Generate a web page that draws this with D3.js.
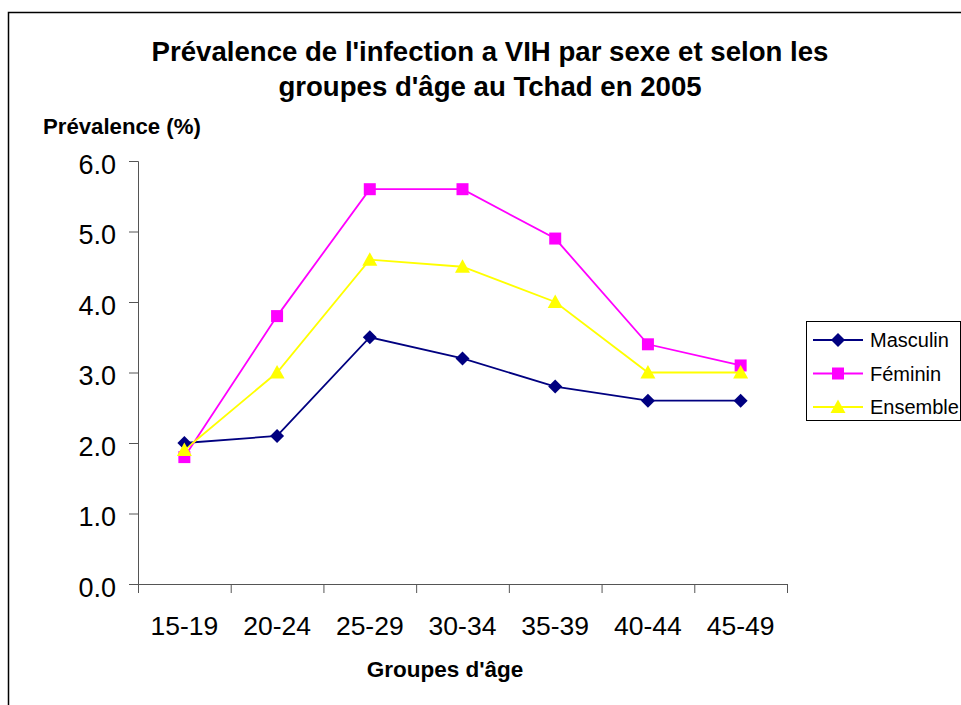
<!DOCTYPE html>
<html><head><meta charset="utf-8">
<script src="https://cdn.jsdelivr.net/npm/d3@7"></script>
<style>body{margin:0;background:#fff}svg{display:block;font-family:Arial,"Liberation Sans",sans-serif}</style>
</head><body>
<script>
const categories = ["15-19","20-24","25-29","30-34","35-39","40-44","45-49"];
const masculin = [2.0, 2.1, 3.5, 3.2, 2.8, 2.6, 2.6];
const feminin  = [1.8, 3.8, 5.6, 5.6, 4.9, 3.4, 3.1];
const ensemble = [1.9, 3.0, 4.6, 4.5, 4.0, 3.0, 3.0];
const yTicks = [0,1,2,3,4,5,6];
const seriesNames = ["Masculin","Féminin","Ensemble"];

const markerPaths = {
  diamond: "M0,-7L7,0L0,7L-7,0Z",
  square: "M-6,-6H6V6H-6Z",
  triangle: "M0,-7.5L7.5,6L-7.5,6Z"
};
const series = [
  {name: seriesNames[0], values: masculin, color: "#000080", marker: markerPaths.diamond},
  {name: seriesNames[1], values: feminin, color: "#FF00FF", marker: markerPaths.square},
  {name: seriesNames[2], values: ensemble, color: "#FFFF00", marker: markerPaths.triangle}
];

const W = 961, H = 705;
const svg = d3.select("body").append("svg").attr("width", W).attr("height", H);

svg.append("rect").attr("x", 8.5).attr("y", 12.5).attr("width", 1000).attr("height", 1000)
  .attr("fill", "none").attr("stroke", "#000").attr("stroke-width", 1.5);

const x = d3.scaleBand().domain(categories).range([138, 787]);
const y = d3.scaleLinear().domain([0, 6]).range([584, 161]);

// y axis
const ya = svg.append("g").attr("transform", "translate(138,0)")
  .call(d3.axisLeft(y).tickValues(yTicks).tickFormat(d3.format(".1f")).tickSize(9).tickPadding(13));
ya.select(".domain").attr("stroke", "#555").attr("d", "M-9,161.5H0.5V584.5");
ya.selectAll(".tick line").attr("stroke", "#555");
ya.selectAll("text").attr("font-size", 27).attr("dy", "0.45em").attr("fill", "#000")
  .attr("font-family", "Arial, 'Liberation Sans', sans-serif");

// x axis
const xa = svg.append("g").attr("transform", "translate(0,584)");
xa.append("line").attr("x1", 129).attr("x2", 787).attr("y1", 0.5).attr("y2", 0.5).attr("stroke", "#555");
const tickPos = categories.map(c => x(c)).concat([x.range()[1]]);
xa.selectAll("line.t").data(tickPos).join("line").attr("class","t")
  .attr("x1", d => d + 0.5).attr("x2", d => d + 0.5).attr("y1", 0).attr("y2", 9).attr("stroke", "#555");
xa.selectAll("text").data(categories).join("text")
  .attr("x", d => x(d) + x.bandwidth()/2).attr("y", 51).attr("text-anchor", "middle")
  .attr("font-size", 26.5).attr("fill", "#000").text(d => d);

// lines
const line = d3.line().x((d,i) => x(categories[i]) + x.bandwidth()/2).y(d => y(d));
series.forEach(s => {
  svg.append("path").attr("d", line(s.values)).attr("fill", "none")
    .attr("stroke", s.color).attr("stroke-width", 1.8);
});
series.forEach(s => {
  svg.append("g").selectAll("path").data(s.values).join("path")
    .attr("transform", (d,i) => `translate(${x(categories[i]) + x.bandwidth()/2},${y(d)})`)
    .attr("d", s.marker).attr("fill", s.color);
});

// titles
const title = svg.append("text").attr("text-anchor", "middle").attr("font-weight", "bold").attr("font-size", 27.6);
title.append("tspan").attr("x", 490).attr("y", 61).text("Prévalence de l'infection a VIH par sexe et selon les");
title.append("tspan").attr("x", 490).attr("y", 96).text("groupes d'âge au Tchad en 2005");

svg.append("text").attr("x", 43).attr("y", 134).attr("font-weight", "bold").attr("font-size", 22.2).text("Prévalence (%)");
svg.append("text").attr("x", 445).attr("y", 677).attr("text-anchor", "middle").attr("font-weight", "bold").attr("font-size", 22.5).text("Groupes d'âge");

// legend
const lg = svg.append("g");
lg.append("rect").attr("x", 806.5).attr("y", 321.5).attr("width", 154).attr("height", 99)
  .attr("fill", "#fff").attr("stroke", "#000").attr("stroke-width", 1);
series.forEach((s, i) => {
  const cy = 340 + i * 33.5;
  lg.append("line").attr("x1", 813).attr("x2", 863).attr("y1", cy).attr("y2", cy).attr("stroke", s.color).attr("stroke-width", 1.8);
  lg.append("path").attr("transform", `translate(838,${cy})`).attr("d", s.marker).attr("fill", s.color);
  lg.append("text").attr("x", 870).attr("y", cy + 7).attr("font-size", 20).text(s.name);
});
</script>
</body></html>
